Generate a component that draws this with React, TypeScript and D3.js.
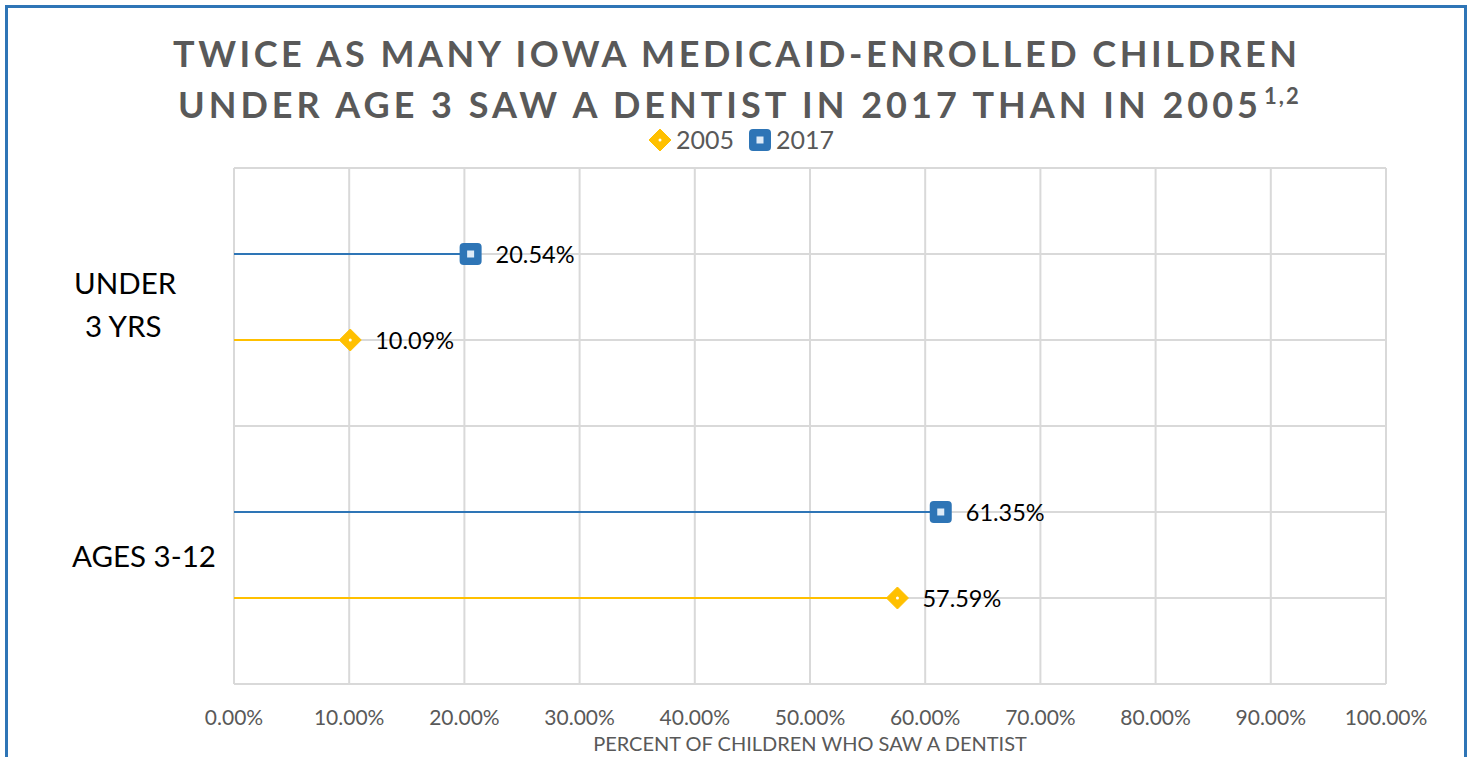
import React from "react";
import * as d3 from "d3";

const categories = ["UNDER 3 YRS", "AGES 3-12"];
const series2005 = [10.09, 57.59];
const series2017 = [20.54, 61.35];
const seriesNames = ["2005", "2017"];
const xTicks = [0, 10, 20, 30, 40, 50, 60, 70, 80, 90, 100];
const yPositions2017 = [5, 2];
const yPositions2005 = [4, 1];

const W = 1471;
const H = 757;
const BLUE = "#2E75B6";
const GOLD = "#FFC000";
const GREY = "#595959";
const FONT = "Lato, 'Open Sans', sans-serif";

export default function App() {
  const x = d3.scaleLinear().domain([0, 100]).range([234, 1386]);
  const y = d3.scaleLinear().domain([0, 6]).range([684, 168]);
  const yGrid = d3.range(0, 7);

  const diamond = (cx: number, cy: number, r: number) =>
    `M${cx},${cy - r}L${cx + r},${cy}L${cx},${cy + r}L${cx - r},${cy}Z`;

  return (
    <svg width={W} height={H} style={{ position: "absolute", left: 0, top: 0 }}>
      <rect x={0} y={0} width={W} height={H} fill="#fff" />
      <path d={`M6.5,${H}V6.5H1465.5V${H}`} fill="none" stroke={BLUE} strokeWidth={3} />

      <text
        x={173}
        y={67}
        fontFamily={FONT}
        fontWeight={700}
        fontSize={36}
        fill={GREY}
        textLength={1124}
        lengthAdjust="spacing"
      >
        TWICE AS MANY IOWA MEDICAID-ENROLLED CHILDREN
      </text>
      <text
        x={178}
        y={118}
        fontFamily={FONT}
        fontWeight={700}
        fontSize={36}
        fill={GREY}
        textLength={1080}
        lengthAdjust="spacing"
      >
        UNDER AGE 3 SAW A DENTIST IN 2017 THAN IN 2005
      </text>
      <text x={1264} y={104} fontFamily={FONT} fontWeight={700} fontSize={22} fill={GREY} letterSpacing={2}>
        1,2
      </text>

      {/* legend */}
      <path d={diamond(660, 140, 11)} fill={GOLD} stroke={GOLD} strokeWidth={1} strokeLinejoin="round" />
      <circle cx={660} cy={140} r={1.5} fill="#fff" />
      <text x={676} y={149} fontFamily={FONT} fontSize={25} fill={GREY}>
        {seriesNames[0]}
      </text>
      <rect x={749} y={129} width={22} height={22} rx={4} fill={BLUE} />
      <rect x={756.5} y={136.5} width={7} height={7} fill="#DDEBF7" />
      <text x={776} y={149} fontFamily={FONT} fontSize={25} fill={GREY}>
        {seriesNames[1]}
      </text>

      {/* grid */}
      {xTicks.map((t) => (
        <line key={"v" + t} x1={x(t)} x2={x(t)} y1={y(6)} y2={y(0)} stroke="#D9D9D9" strokeWidth={2} />
      ))}
      {yGrid.map((g) => (
        <line key={"h" + g} x1={x(0)} x2={x(100)} y1={y(g)} y2={y(g)} stroke="#D9D9D9" strokeWidth={2} />
      ))}

      {/* x tick labels */}
      {xTicks.map((t) => (
        <text
          key={"t" + t}
          x={x(t)}
          y={725}
          textAnchor="middle"
          fontFamily={FONT}
          fontSize={21}
          fill={GREY}
        >
          {t.toFixed(2) + "%"}
        </text>
      ))}
      <text x={810} y={751} textAnchor="middle" fontFamily={FONT} fontSize={20} fill={GREY}>
        PERCENT OF CHILDREN WHO SAW A DENTIST
      </text>

      {/* category labels */}
      <text x={74} y={294} fontFamily={FONT} fontSize={29.5} fill="#000">UNDER</text>
      <text x={85} y={337} fontFamily={FONT} fontSize={29.5} fill="#000">3 YRS</text>
      <text x={72} y={567} fontFamily={FONT} fontSize={29.5} fill="#000">AGES 3-12</text>

      {/* lines and markers */}
      {categories.map((c, i) => (
        <g key={c}>
          <line x1={x(0)} x2={x(series2017[i])} y1={y(yPositions2017[i])} y2={y(yPositions2017[i])} stroke={BLUE} strokeWidth={2} />
          <line x1={x(0)} x2={x(series2005[i])} y1={y(yPositions2005[i])} y2={y(yPositions2005[i])} stroke={GOLD} strokeWidth={2} />
          <rect
            x={x(series2017[i]) - 11}
            y={y(yPositions2017[i]) - 11}
            width={22}
            height={22}
            rx={4}
            fill={BLUE}
          />
          <rect x={x(series2017[i]) - 3.5} y={y(yPositions2017[i]) - 3.5} width={7} height={7} fill="#DDEBF7" />
          <path
            d={diamond(x(series2005[i]), y(yPositions2005[i]), 11)}
            fill={GOLD}
            stroke={GOLD}
            strokeWidth={1}
            strokeLinejoin="round"
          />
          <circle cx={x(series2005[i])} cy={y(yPositions2005[i])} r={1.5} fill="#fff" />
          <text x={x(series2017[i]) + 25} y={y(yPositions2017[i]) + 9} fontFamily={FONT} fontSize={23.5} fill="#000">
            {series2017[i].toFixed(2) + "%"}
          </text>
          <text x={x(series2005[i]) + 25} y={y(yPositions2005[i]) + 9} fontFamily={FONT} fontSize={23.5} fill="#000">
            {series2005[i].toFixed(2) + "%"}
          </text>
        </g>
      ))}
    </svg>
  );
}
